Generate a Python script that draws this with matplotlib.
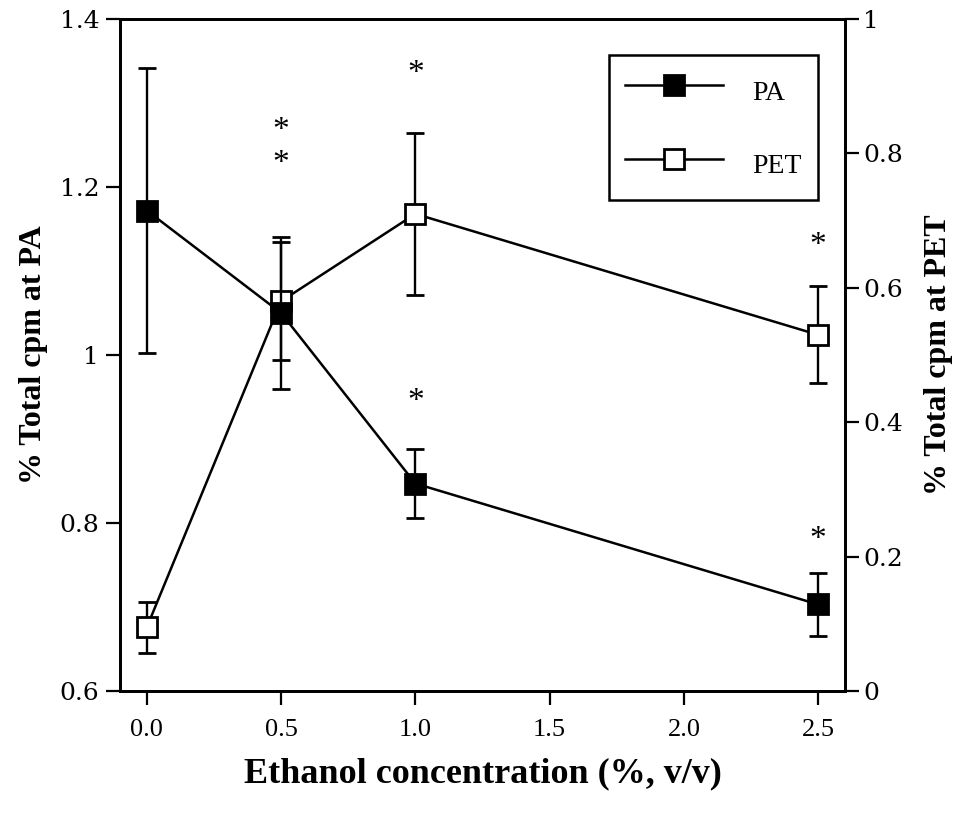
import matplotlib
matplotlib.use("Agg")
import matplotlib.pyplot as plt

# ---- data ----
ethanol = [0.0, 0.5, 1.0, 2.5]
pa_mean = [1.172, 1.05, 0.847, 0.703]
pa_err = [0.170, 0.090, 0.041, 0.037]
pet_mean = [0.095, 0.58, 0.71, 0.53]
pet_err = [0.038, 0.088, 0.120, 0.072]
# significance asterisks (left-axis units)
sig_x = [0.5, 0.5, 1.0, 1.0, 2.5, 2.5]
sig_y = [1.271, 1.232, 1.339, 0.948, 1.134, 0.784]
x_ticks = [0.0, 0.5, 1.0, 1.5, 2.0, 2.5]
x_ticklabels = ["0.0", "0.5", "1.0", "1.5", "2.0", "2.5"]
left_ticks = [0.6, 0.8, 1.0, 1.2, 1.4]
left_ticklabels = ["0.6", "0.8", "1", "1.2", "1.4"]
right_ticks = [0, 0.2, 0.4, 0.6, 0.8, 1.0]
right_ticklabels = ["0", "0.2", "0.4", "0.6", "0.8", "1"]

plt.rcParams['font.family'] = ['Liberation Serif', 'DejaVu Serif']

fig = plt.figure(figsize=(9.58, 8.18), dpi=100)
ax = fig.add_axes([120/958, 127/818, 725/958, 672/818])
ax2 = ax.twinx()

lw = 1.8
ms = 14
cap = 6.2

l_pet = ax2.errorbar(ethanol, pet_mean, yerr=pet_err, color='black', lw=lw,
                     marker='s', ms=ms, mfc='white', mec='black', mew=2.0,
                     capsize=cap, capthick=2.4, elinewidth=1.7, label='PET')
l_pa = ax.errorbar(ethanol, pa_mean, yerr=pa_err, color='black', lw=lw,
                   marker='s', ms=ms, mfc='black', mec='black', mew=2.0,
                   capsize=cap, capthick=2.4, elinewidth=1.7, label='PA')

ax.set_zorder(ax2.get_zorder() + 1)
ax.patch.set_visible(False)

for sx, sy in zip(sig_x, sig_y):
    ax.text(sx, sy, "*", ha='center', va='center_baseline', fontsize=24,
            transform=ax.transData)

ax.set_xlim(-0.1, 2.6)
ax.set_ylim(0.6, 1.4)
ax2.set_ylim(0, 1)

ax.set_xticks(x_ticks)
ax.set_xticklabels(x_ticklabels)
ax.set_yticks(left_ticks)
ax.set_yticklabels(left_ticklabels, family='DejaVu Serif')
ax2.set_yticks(right_ticks)
ax2.set_yticklabels(right_ticklabels, family='DejaVu Serif')

for a in (ax, ax2):
    for s in a.spines.values():
        s.set_linewidth(2.0)
ax.tick_params(axis='x', direction='out', length=10, width=1.6,
               labelsize=19, pad=10)
ax.tick_params(axis='y', direction='out', length=10, width=1.6,
               labelsize=18, pad=5)
ax2.tick_params(axis='y', direction='out', length=10, width=1.6,
                labelsize=18, pad=3)

ax.set_xlabel("Ethanol concentration (%, v/v)", fontsize=26, fontweight='bold',
              labelpad=12)
ax.set_ylabel("% Total cpm at PA", fontsize=23, fontweight='bold', labelpad=8)
ax2.set_ylabel("% Total cpm at PET", fontsize=23, fontweight='bold', labelpad=15)

handles = [l_pa[0], l_pet[0]]
leg = ax.legend(handles, ['PA', 'PET'], loc='upper right',
                bbox_to_anchor=(0.9628, 0.9464), borderaxespad=0,
                fontsize=20, handlelength=3.5, handletextpad=1.08,
                handleheight=1.8, labelspacing=1.23, borderpad=0.58,
                fancybox=False, edgecolor='black', framealpha=1)
leg.get_frame().set_linewidth(1.8)

fig.savefig("out.png", dpi=100)
